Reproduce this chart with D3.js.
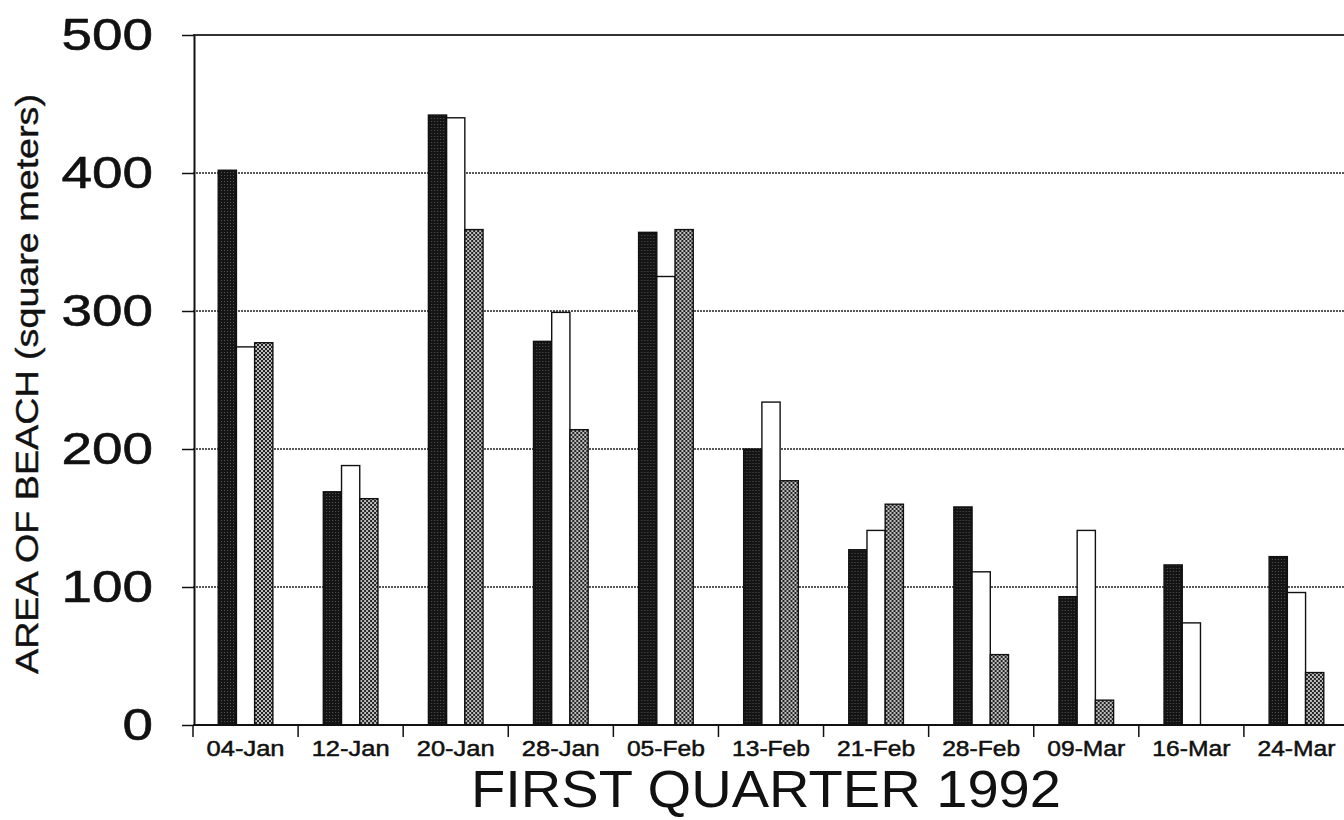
<!DOCTYPE html>
<html><head><meta charset="utf-8">
<script src="https://cdn.jsdelivr.net/npm/d3@7"></script>
<style>body{margin:0;background:#fff}svg{display:block}</style></head>
<body><svg id="c" width="1344" height="820"></svg>
<script>
const categories = ["04-Jan","12-Jan","20-Jan","28-Jan","05-Feb","13-Feb","21-Feb","28-Feb","09-Mar","16-Mar","24-Mar"];
const seriesNames = ["black","white","gray"];
const seriesBlack = [402,169,442,278,357,200,127,158,93,116,122];
const seriesWhite = [274,188,440,299,325,234,141,111,141,74,96];
const seriesGray  = [277,164,359,214,359,177,160,51,18,0,38];
const yTicks = [0,100,200,300,400,500];
const yTitle = "AREA OF BEACH (square meters)";
const xTitle = "FIRST QUARTER 1992";

const svg = d3.select("#c");
const font = "'Liberation Sans', Arial, sans-serif";
const y = d3.scaleLinear().domain([0,500]).range([725,35]);
const x = d3.scaleBand().domain(categories).range([193,1349]);
const bw = x.bandwidth();
const xs = d3.scaleBand().domain(seriesNames).range([bw*0.24, bw*0.76]);

const defs = svg.append("defs");
const pb = defs.append("pattern").attr("id","pBlack").attr("width",3).attr("height",3).attr("patternUnits","userSpaceOnUse");
pb.append("rect").attr("width",3).attr("height",3).attr("fill","#141414");
pb.append("rect").attr("x",1).attr("y",1).attr("width",1).attr("height",1).attr("fill","#555");
const pg = defs.append("pattern").attr("id","pGray").attr("width",4).attr("height",4).attr("patternUnits","userSpaceOnUse");
pg.append("rect").attr("width",4).attr("height",4).attr("fill","#bdbdbd");
pg.append("rect").attr("width",2).attr("height",2).attr("fill","#252525");
pg.append("rect").attr("x",2).attr("y",2).attr("width",2).attr("height",2).attr("fill","#252525");

// gridlines
svg.append("g").selectAll("line").data(yTicks.filter(d=>d>0)).join("line")
  .attr("x1",193).attr("x2",1344).attr("y1",d=>y(d)).attr("y2",d=>y(d))
  .attr("stroke", d=> d===500 ? "#333" : "#222")
  .attr("stroke-width", d=> d===500 ? 2 : 1.6)
  .attr("stroke-dasharray", d=> d===500 ? null : "2,1");

// bars
const data = categories.map((c,i)=>({c, vals:[
  {s:"black", v:seriesBlack[i], fill:"url(#pBlack)"},
  {s:"white", v:seriesWhite[i], fill:"#fff"},
  {s:"gray",  v:seriesGray[i],  fill:"url(#pGray)"}]}));
const groups = svg.append("g").selectAll("g").data(data).join("g")
  .attr("transform", d=>`translate(${x(d.c)},0)`);
groups.selectAll("rect").data(d=>d.vals.filter(v=>v.v>0)).join("rect")
  .attr("x", d=>xs(d.s)).attr("width", xs.bandwidth())
  .attr("y", d=>y(d.v)).attr("height", d=>y(0)-y(d.v))
  .attr("fill", d=>d.fill).attr("stroke","#111").attr("stroke-width",1.4);

// y axis
const ya = svg.append("g").attr("transform","translate(194,0)")
  .call(d3.axisLeft(y).tickValues(yTicks).tickSize(12).tickPadding(29).tickSizeOuter(0));
ya.select(".domain").attr("stroke","#111").attr("stroke-width",2);
ya.selectAll(".tick line").attr("stroke","#111").attr("stroke-width",1.5);
ya.selectAll("text").attr("font-family",font).attr("font-size",45).attr("fill","#111")
  .attr("stroke","#111").attr("stroke-width",0.6)
  .attr("dy","0.33em")
  .attr("textLength", function(){ return this.textContent.length*30.5; })
  .attr("lengthAdjust","spacingAndGlyphs");

// x axis
svg.append("line").attr("x1",193).attr("x2",1344).attr("y1",y(0)).attr("y2",y(0))
  .attr("stroke","#111").attr("stroke-width",2);
svg.append("g").selectAll("line").data(categories).join("line")
  .attr("x1",d=>x(d)).attr("x2",d=>x(d)).attr("y1",y(0)).attr("y2",y(0)+12)
  .attr("stroke","#111").attr("stroke-width",1.5);
const xa = svg.append("g").attr("transform",`translate(0,${y(0)})`)
  .call(d3.axisBottom(x).tickSize(0).tickPadding(15));
xa.select(".domain").remove();
xa.selectAll("text").attr("font-family",font).attr("font-size",22).attr("fill","#111")
  .attr("stroke","#111").attr("stroke-width",0.5)
  .attr("textLength", function(){ return this.textContent.length*13; })
  .attr("lengthAdjust","spacingAndGlyphs");

// titles
svg.append("text").attr("transform","translate(38,384) rotate(-90)")
  .attr("text-anchor","middle").attr("font-family",font).attr("font-size",31)
  .attr("textLength",580).attr("lengthAdjust","spacingAndGlyphs")
  .attr("fill","#111").attr("stroke","#111").attr("stroke-width",0.4).text(yTitle);
svg.append("text").attr("x",766).attr("y",807).attr("text-anchor","middle")
  .attr("font-family",font).attr("font-size",52)
  .attr("textLength",590).attr("lengthAdjust","spacingAndGlyphs")
  .attr("fill","#111").text(xTitle);
</script></body></html>
